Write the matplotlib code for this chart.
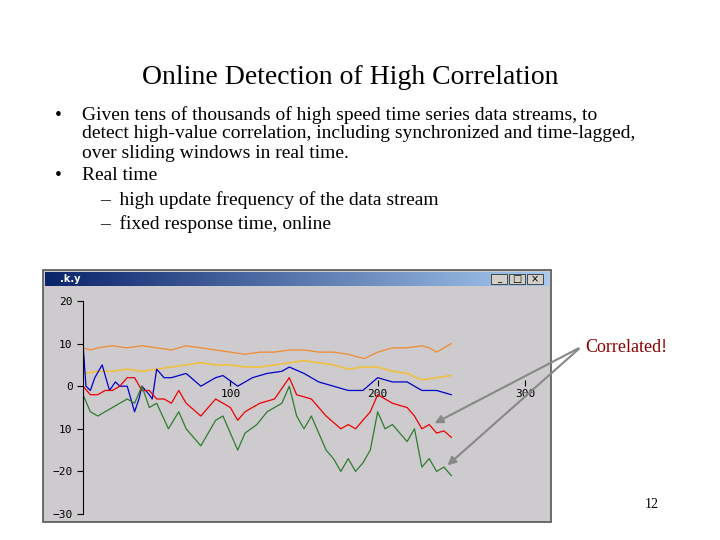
import matplotlib
matplotlib.use("Agg")
import matplotlib.pyplot as plt
import numpy as np
from matplotlib.patches import Rectangle
from matplotlib.colors import LinearSegmentedColormap

orange_x = [0,5,10,20,30,40,50,60,70,80,90,100,110,120,130,140,150,160,170,180,185,191,200,210,220,230,235,240,250]
orange_y = [9,8.5,9,9.5,9,9.5,9,8.5,9.5,9,8.5,8,7.5,8,8,8.5,8.5,8,8,7.5,7,6.5,8,9,9,9.5,9,8,10]
yellow_x = [0,10,20,30,40,50,60,70,80,90,100,110,120,130,140,150,160,170,180,190,200,210,220,230,240,250]
yellow_y = [3,3.5,3.5,4,3.5,4,4.5,5,5.5,5,5,4.5,4.5,5,5.5,6,5.5,5,4,4.5,4.5,3.5,3,1.5,2,2.5]
blue_x = [0,2,5,8,13,18,22,25,30,35,38,40,45,47,50,55,60,70,80,90,95,105,115,125,135,140,150,160,170,180,190,200,210,220,230,240,250]
blue_y = [10,0,-1,2,5,-1,1,0,0,-6,-3,0,-2,-3,4,2,2,3,0,2,2.5,0,2,3,3.5,4.5,3,1,0,-1,-1,2,1,1,-1,-1,-2]
red_x = [0,5,10,15,20,25,30,35,40,45,50,55,60,65,70,80,90,100,105,110,120,130,140,145,155,165,175,180,185,195,200,210,220,225,230,235,240,245,250]
red_y = [0,-2,-2,-1,-1,0,2,2,-1,-1,-3,-3,-4,-1,-4,-7,-3,-5,-8,-6,-4,-3,2,-2,-3,-7,-10,-9,-10,-6,-2,-4,-5,-7,-10,-9,-11,-10.5,-12]
green_x = [0,5,10,15,20,25,30,35,40,45,50,58,65,70,75,80,90,95,100,105,110,118,125,135,140,145,150,155,160,165,170,175,180,185,190,195,200,205,210,215,220,225,230,235,240,245,250]
green_y = [-2,-6,-7,-6,-5,-4,-3,-4,0,-5,-4,-10,-6,-10,-12,-14,-8,-7,-11,-15,-11,-9,-6,-4,0,-7,-10,-7,-11,-15,-17,-20,-17,-20,-18,-15,-6,-10,-9,-11,-13,-10,-19,-17,-20,-19,-21]
xticks = [100, 200, 300]
yticks = [20, 10, 0, -10, -20, -30]
ytick_labels = ["20", "10", "0", "10", "\u221220", "\u221230"]

W, H = 720, 540
fig = plt.figure(figsize=(W/100, H/100), dpi=100)
ov = fig.add_axes([0, 0, 1, 1])
ov.set_xlim(0, W); ov.set_ylim(H, 0); ov.axis("off")

serif = "Liberation Serif"
ov.text(350, 78, "Online Detection of High Correlation", ha="center", va="center", fontsize=20, family=serif)
lines = [
    (55, 115, "\u2022"), (82, 115, "Given tens of thousands of high speed time series data streams, to"),
    (82, 134, "detect high-value correlation, including synchronized and time-lagged,"),
    (82, 153, "over sliding windows in real time."),
    (55, 176, "\u2022"), (82, 176, "Real time"),
    (100, 200, "\u2013  high update frequency of the data stream"),
    (100, 224, "\u2013  fixed response time, online"),
]
for x, y, t in lines:
    ov.text(x, y, t, ha="left", va="center", fontsize=14, family=serif)

ov.add_patch(Rectangle((43, 270), 508, 252, facecolor="#cdcbcd", edgecolor="#555555", lw=1.2))
grad = np.linspace(0, 1, 256).reshape(1, -1)
cm = LinearSegmentedColormap.from_list("tb", ["#0a246a", "#a6caf0"])
ov.imshow(grad, cmap=cm, extent=(45, 549, 286, 272), aspect="auto", zorder=2)
ov.text(60, 279, ".k.y", color="white", fontsize=7, fontweight="bold", va="center", zorder=3)
for bx in (491, 509, 527):
    ov.add_patch(Rectangle((bx, 274), 16, 10, facecolor="#d4d0c8", edgecolor="#333333", lw=0.6, zorder=3))
ov.text(499, 279, "_", fontsize=6, ha="center", va="center", zorder=4)
ov.text(517, 279, "\u25a1", fontsize=7, ha="center", va="center", zorder=4)
ov.text(535, 279, "\u00d7", fontsize=7, ha="center", va="center", zorder=4)

ax = fig.add_axes([83/W, 1-514/H, (525-83)/W, (514-301)/H])
ax.set_facecolor("none")
ax.plot(orange_x, orange_y, color="#f08a30", lw=0.9)
ax.plot(yellow_x, yellow_y, color="#f0c040", lw=1.2)
ax.plot(blue_x, blue_y, color="#0000cc", lw=0.9)
ax.plot(red_x, red_y, color="#ee0000", lw=0.9)
ax.plot(green_x, green_y, color="#2e7d2e", lw=0.9)
ax.set_xlim(0, 300); ax.set_ylim(-30, 20)
for s in ("top", "right"):
    ax.spines[s].set_visible(False)
ax.spines["bottom"].set_position(("data", 0))
ax.spines["bottom"].set_visible(False)
ax.set_xticks(xticks); ax.set_xticklabels([str(v) for v in xticks], family="DejaVu Sans Mono", fontsize=8)
ax.tick_params(axis="x", direction="in", length=4, pad=2)
ax.set_yticks(yticks); ax.set_yticklabels(ytick_labels, family="DejaVu Sans Mono", fontsize=8)
ax.tick_params(axis="y", direction="out", length=4)

ov2 = fig.add_axes([0, 0, 1, 1], zorder=10)
ov2.set_xlim(0, W); ov2.set_ylim(H, 0); ov2.axis("off")
ov2.text(585, 347, "Correlated!", color="#8b0000", fontsize=13, family=serif, va="center")
for tgt in ((237, -9), (246, -19)):
    ov2.annotate("", xy=tgt, xycoords=ax.transData, xytext=(581, 347), textcoords="data",
                 arrowprops=dict(arrowstyle="-|>", color="#888888", lw=1.5, mutation_scale=12))
ov2.text(652, 505, "12", fontsize=10, family=serif, ha="center", va="center")

fig.savefig("out.png", dpi=100)
